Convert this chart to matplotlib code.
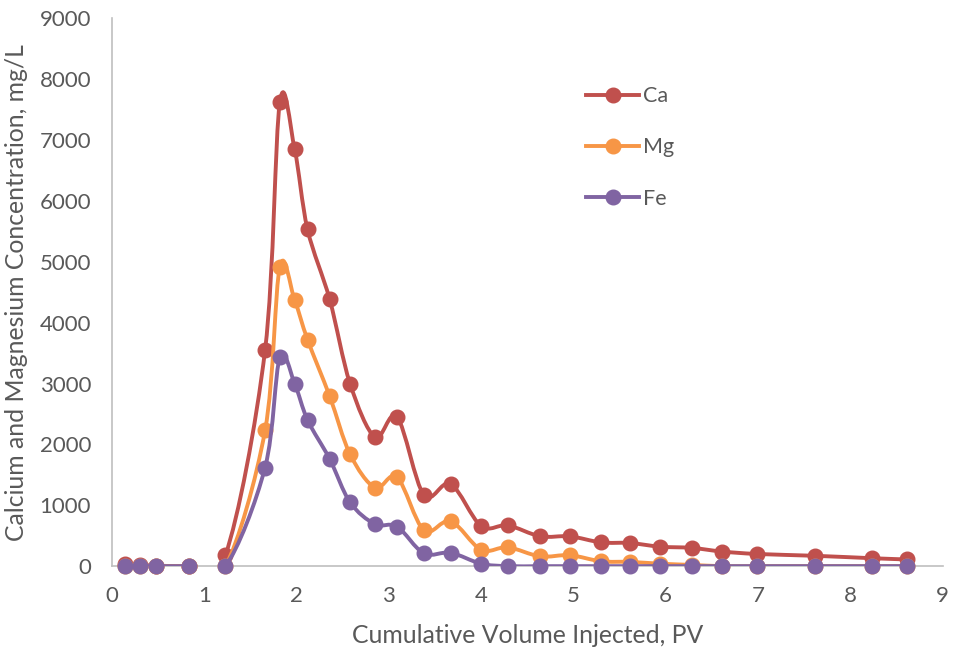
import numpy as np
import matplotlib
matplotlib.use("Agg")
import matplotlib.pyplot as plt
from matplotlib.path import Path
from matplotlib.patches import PathPatch
from matplotlib.lines import Line2D

pv = [0.14, 0.31, 0.48, 0.84, 1.23, 1.66, 1.82, 1.98, 2.12, 2.36, 2.58, 2.85, 3.09,
      3.38, 3.67, 4.00, 4.29, 4.64, 4.96, 5.30, 5.61, 5.94, 6.28, 6.61, 6.99, 7.62,
      8.24, 8.61]
ca = [30, 20, 10, 10, 180, 3550, 7620, 6850, 5530, 4380, 3000, 2120, 2450,
      1170, 1350, 660, 670, 490, 490, 390, 380, 320, 300, 240, 200, 170, 130, 110]
mg = [0, 0, 0, 0, 0, 2230, 4920, 4370, 3720, 2790, 1840, 1290, 1460,
      590, 740, 270, 310, 160, 180, 80, 70, 40, 20, 0, 0, 0, 0, 0]
fe = [0, 0, 0, 0, 0, 1620, 3430, 3000, 2400, 1760, 1050, 690, 650,
      210, 220, 40, 0, 0, 0, 0, 0, 0, 0, 0, 0, 0, 0, 0]

series = [("Ca", ca, "#C0504D"), ("Mg", mg, "#F79646"), ("Fe", fe, "#8064A2")]

plt.rcParams['font.family'] = ['Lato', 'DejaVu Sans']

fig = plt.figure(figsize=(9.56, 6.5), dpi=100)
ax = fig.add_axes([0.117, 0.129, 0.869, 0.843])


def smooth_path(x, y, t=1/6):
    pts = np.column_stack([x, y]).astype(float)
    n = len(pts)
    verts = [pts[0]]
    codes = [Path.MOVETO]
    for i in range(n - 1):
        p0 = pts[i - 1] if i > 0 else pts[i]
        p1 = pts[i]
        p2 = pts[i + 1]
        p3 = pts[i + 2] if i + 2 < n else pts[i + 1]
        c1 = p1 + (p2 - p0) * t
        c2 = p2 - (p3 - p1) * t
        verts += [c1, c2, p2]
        codes += [Path.CURVE4] * 3
    return Path(verts, codes)


LW = 2.8
MS = 10.5
handles = []
for k, (name, vals, col) in enumerate(series):
    patch = PathPatch(smooth_path(pv, vals), facecolor='none', edgecolor=col,
                      lw=LW, zorder=2 + k * 2, capstyle='round', joinstyle='round')
    ax.add_patch(patch)
    ax.plot(pv, vals, 'o', color=col, ms=MS, zorder=3 + k * 2, clip_on=False)
    handles.append(Line2D([], [], color=col, lw=LW, marker='o', ms=MS))

ax.set_xlim(0, 9)
ax.set_ylim(0, 9000)
ax.set_xticks(range(0, 10))
ax.set_yticks(range(0, 9001, 1000))
ax.tick_params(length=0, labelsize=16, colors='#595959')
ax.tick_params(axis='x', pad=14)
ax.tick_params(axis='y', pad=15)
for s in ['top', 'right']:
    ax.spines[s].set_visible(False)
for s in ['left', 'bottom']:
    ax.spines[s].set_color('#BFBFBF')
    ax.spines[s].set_linewidth(1.2)

ax.set_xlabel("Cumulative Volume Injected, PV", fontsize=17.8, color='#595959', labelpad=13)
ax.set_ylabel("Calcium and Magnesium Concentration, mg/L", fontsize=17.8, color='#595959', labelpad=8)

leg = ax.legend(handles, [s[0] for s in series], loc='upper left',
                bbox_to_anchor=(0.571, 0.876), frameon=False, fontsize=15.5,
                handlelength=2.45, labelspacing=1.45, handletextpad=0.2,
                borderpad=0, borderaxespad=0, labelcolor='#595959')

fig.savefig("out.png", dpi=100)
